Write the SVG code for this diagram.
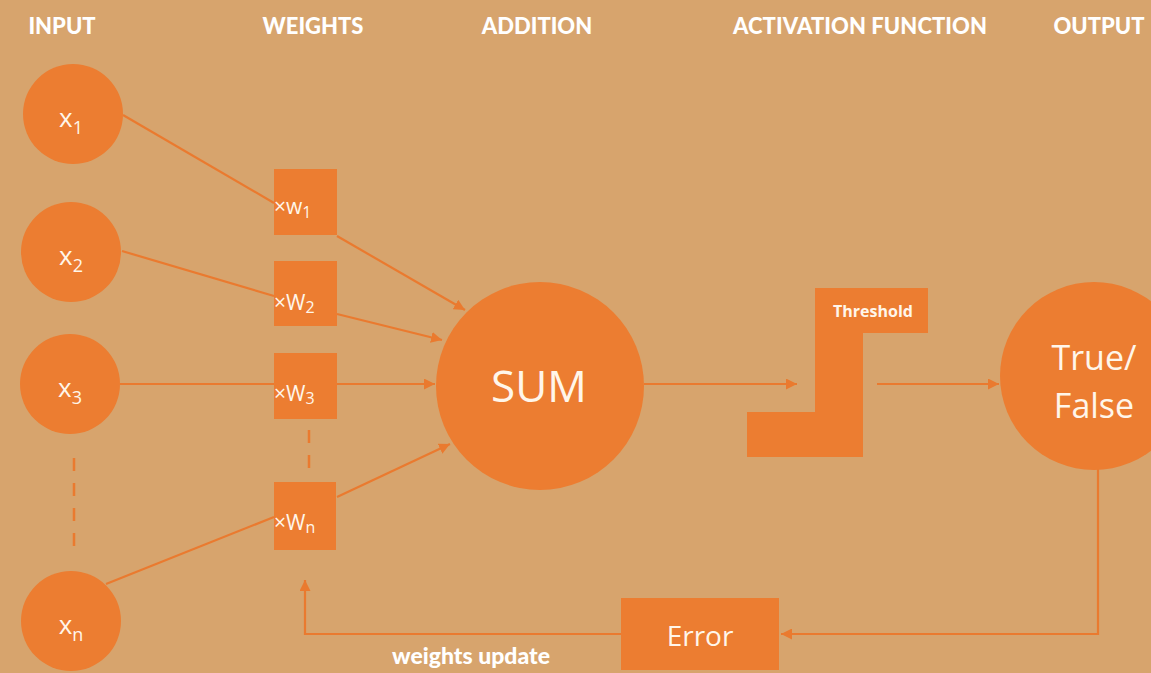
<svg xmlns="http://www.w3.org/2000/svg" width="1151" height="673" viewBox="0 0 1151 673">
  <defs>
    <marker id="arrow" viewBox="0 0 10 10" refX="10" refY="5" markerWidth="5" markerHeight="5" orient="auto" markerUnits="strokeWidth">
      <path d="M0,0 L10,5 L0,10 Z" fill="#EA7A2F"/>
    </marker>
    <style>
      .bg { fill: #D7A46D; }
      .node { fill: #EC7D31; }
      .wire { stroke: #EA7A2F; stroke-width: 2.2; fill: none; }
      .arrow { marker-end: url(#arrow); }
      .dash { stroke: #EA7A2F; stroke-width: 2.5; stroke-dasharray: 13 12; fill: none; }
      .head { font-family: Lato, "Liberation Sans", sans-serif; font-weight: 900; font-size: 22px; fill: #FFFFFF; text-anchor: middle; }
      .lbl { font-family: "Open Sans", "Liberation Sans", sans-serif; fill: #FFF6EA; }
      .var { font-size: 26px; text-anchor: middle; }
      .wt { font-size: 21px; }
      .sub { font-size: 18px; }
      .wsub { font-size: 16px; }
      .big { text-anchor: middle; }
      .note { font-family: Lato, "Liberation Sans", sans-serif; font-weight: 900; font-size: 23px; fill: #FFFFFF; text-anchor: middle; }
    </style>
  </defs>

  <rect class="bg" x="0" y="0" width="1151" height="673"/>

  <!-- column headings -->
  <g id="headings">
    <text class="head" x="62" y="34">INPUT</text>
    <text class="head" x="313" y="34">WEIGHTS</text>
    <text class="head" x="537" y="34">ADDITION</text>
    <text class="head" x="860" y="34" textLength="254">ACTIVATION FUNCTION</text>
    <text class="head" x="1099" y="34">OUTPUT</text>
  </g>

  <!-- connectors -->
  <g id="connectors">
    <line class="wire" x1="123" y1="115" x2="274" y2="203"/>
    <line class="wire" x1="122" y1="251" x2="274" y2="296"/>
    <line class="wire" x1="120" y1="384" x2="274" y2="384"/>
    <line class="wire" x1="106" y1="584" x2="274" y2="517"/>
    <line class="wire arrow" x1="337" y1="236" x2="465" y2="310"/>
    <line class="wire arrow" x1="337" y1="314" x2="442" y2="340"/>
    <line class="wire arrow" x1="337" y1="384" x2="435" y2="384"/>
    <line class="wire arrow" x1="337" y1="497" x2="450" y2="444"/>
    <line class="wire arrow" x1="644" y1="384" x2="797" y2="384"/>
    <line class="wire arrow" x1="877" y1="384" x2="999" y2="384"/>
    <polyline class="wire arrow" points="1098,467 1098,634 781,634"/>
    <polyline class="wire arrow" points="621,634 305,634 305,580"/>
    <line class="dash" x1="74" y1="458" x2="74" y2="552"/>
    <line class="dash" x1="309" y1="430" x2="309" y2="472"/>
  </g>

  <!-- inputs -->
  <g id="input-x1">
    <circle class="node" cx="73" cy="114" r="50"/>
    <text class="lbl var" x="71" y="127">x<tspan class="sub" dy="7">1</tspan></text>
  </g>
  <g id="input-x2">
    <circle class="node" cx="71" cy="252" r="50"/>
    <text class="lbl var" x="71" y="265">x<tspan class="sub" dy="7">2</tspan></text>
  </g>
  <g id="input-x3">
    <circle class="node" cx="70" cy="384" r="50"/>
    <text class="lbl var" x="70" y="397">x<tspan class="sub" dy="7">3</tspan></text>
  </g>
  <g id="input-xn">
    <circle class="node" cx="71" cy="621" r="50"/>
    <text class="lbl var" x="71" y="634">x<tspan class="sub" dy="7">n</tspan></text>
  </g>

  <!-- weights -->
  <g id="weight-w1">
    <rect class="node" x="274" y="169" width="63" height="66"/>
    <text class="lbl wt" x="274" y="214">×w<tspan class="wsub" dy="4">1</tspan></text>
  </g>
  <g id="weight-w2">
    <rect class="node" x="274" y="261" width="63" height="65"/>
    <text class="lbl wt" x="274" y="310">×W<tspan class="wsub" dy="3">2</tspan></text>
  </g>
  <g id="weight-w3">
    <rect class="node" x="274" y="353" width="63" height="66"/>
    <text class="lbl wt" x="274" y="401">×W<tspan class="wsub" dy="3">3</tspan></text>
  </g>
  <g id="weight-wn">
    <rect class="node" x="274" y="482" width="62" height="68"/>
    <text class="lbl wt" x="274" y="530">×W<tspan class="wsub" dy="3">n</tspan></text>
  </g>

  <!-- summation -->
  <g id="sum">
    <circle class="node" cx="540" cy="386" r="104"/>
    <text class="lbl big" x="539" y="402" font-size="44">SUM</text>
  </g>

  <!-- step activation -->
  <g id="threshold">
    <polygon class="node" points="815,288 928,288 928,333 863,333 863,457 747,457 747,412 815,412"/>
    <text class="lbl" x="873" y="317" font-size="16" font-weight="700" text-anchor="middle">Threshold</text>
  </g>

  <!-- output -->
  <g id="output">
    <circle class="node" cx="1094" cy="376" r="94"/>
    <text class="lbl big" x="1094" y="370" font-size="34">True/</text>
    <text class="lbl big" x="1094" y="418" font-size="34">False</text>
  </g>

  <!-- error -->
  <g id="error">
    <rect class="node" x="621" y="598" width="158" height="72"/>
    <text class="lbl big" x="700" y="646" font-size="28">Error</text>
  </g>

  <text class="note" x="471" y="664">weights update</text>
</svg>
